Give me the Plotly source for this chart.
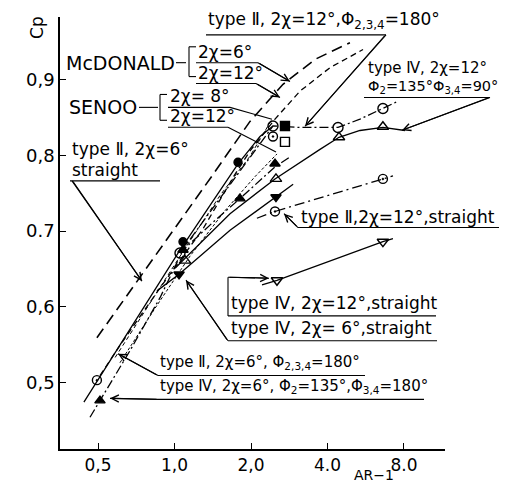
import plotly.graph_objects as go

# ---------------- data (AR-1, Cp) ----------------
mcd6_x = [0.495, 0.718, 1.051, 1.405, 1.982, 2.673, 3.573, 4.90]
mcd6_y = [0.559, 0.635, 0.714, 0.773, 0.845, 0.894, 0.927, 0.949]

mcd12_x = [0.509, 0.610, 0.877, 1.295, 1.715, 1.982, 2.486, 3.118, 4.09, 5.52]
mcd12_y = [0.509, 0.549, 0.625, 0.703, 0.773, 0.806, 0.848, 0.885, 0.916, 0.940]

senoo8_x = [0.584, 0.801, 1.100, 1.510, 1.982, 2.42]
senoo8_y = [0.533, 0.605, 0.677, 0.747, 0.799, 0.848]
senoo12_x = [0.610, 0.838, 1.151, 1.580, 2.074, 2.531]
senoo12_y = [0.526, 0.598, 0.667, 0.727, 0.772, 0.802]

# type II, 2x=6 deg, phi234=180
t2_6_180_x = [0.440, 0.495, 0.610, 0.801, 1.051, 1.380, 1.778, 2.170, 2.441]
t2_6_180_y = [0.474, 0.501, 0.550, 0.612, 0.675, 0.734, 0.789, 0.825, 0.839]
t2_6_180_px = [1.080, 1.778]
t2_6_180_py = [0.686, 0.791]
t2_6_180_hx = [0.495]
t2_6_180_hy = [0.503]

# type IV, 2x=6 deg, phi2=135, phi34=180
t4_6_135_x = [0.465, 0.509, 0.668, 0.877, 1.080, 1.443, 1.810, 2.486, 2.848]
t4_6_135_y = [0.454, 0.476, 0.542, 0.612, 0.675, 0.714, 0.743, 0.785, 0.798]
t4_6_135_px = [0.509, 1.080, 1.810, 2.486]
t4_6_135_py = [0.476, 0.675, 0.743, 0.789]

# type IV, 2x=12 deg, phi2=135, phi34=90 (triangles)
t4_12_90t_x = [1.005, 1.654, 2.486, 3.118, 3.737, 4.44, 5.37, 6.61, 8.07]
t4_12_90t_y = [0.651, 0.723, 0.769, 0.791, 0.808, 0.824, 0.833, 0.837, 0.833]
t4_12_90t_px = [1.100, 2.508, 4.44, 6.61]
t4_12_90t_py = [0.661, 0.769, 0.824, 0.838]

# open-circle series
t4_12_90c_x = [1.051, 2.441, 3.118, 4.40, 5.37, 6.61, 7.51]
t4_12_90c_y = [0.671, 0.839, 0.837, 0.837, 0.848, 0.862, 0.871]
t4_12_90c_px = [1.051, 2.441, 4.40, 6.61]
t4_12_90c_py = [0.671, 0.839, 0.837, 0.862]

# type II, 2x=12 deg, phi234=180 (squares) and extra point
t2_12_180_sx = [2.721]
t2_12_180_sy = [0.839]
senoo_sq_x = [2.721]
senoo_sq_y = [0.818]
half_extra_x = [2.441]
half_extra_y = [0.825]

# type II, 2x=12 deg, straight
t2_12_s_x = [2.11, 2.486, 6.61, 7.24]
t2_12_s_y = [0.717, 0.726, 0.769, 0.773]
t2_12_s_px = [2.486, 6.61]
t2_12_s_py = [0.726, 0.769]

# type IV, 2x=12 deg, straight
t4_12_s_x = [2.21, 2.531, 6.61, 7.24]
t4_12_s_y = [0.629, 0.635, 0.686, 0.690]
t4_12_s_px = [2.531, 6.61]
t4_12_s_py = [0.635, 0.686]

# type IV, 2x=6 deg, straight
t4_6_s_x = [0.853, 1.042, 1.654, 2.508, 2.93]
t4_6_s_y = [0.621, 0.643, 0.701, 0.745, 0.762]
t4_6_s_px = [1.042, 2.508]
t4_6_s_py = [0.643, 0.745]

x_ticks = [0.5, 1.0, 2.0, 4.0, 8.0]
x_ticktext = ["0,5", "1,0", "2,0", "4.0", "8.0"]
y_ticks = [0.5, 0.6, 0.7, 0.8, 0.9]
y_ticktext = ["0,5", "0,6", "0.7", "0,8", "0,9"]

# ---------------- figure ----------------
OFF = 8                       # default page margin of the html body
W, H = 515 - OFF, 484 - OFF
L, R, T, B = 60 - OFF, 445 - OFF, 17 - OFF, 452 - OFF
FONT = "DejaVu Sans"

fig = go.Figure()

def line(x, y, dash="solid", w=1.3):
    fig.add_trace(go.Scatter(x=x, y=y, mode="lines",
                             line=dict(color="black", width=w, dash=dash),
                             showlegend=False, hoverinfo="skip"))

def marks(x, y, sym, size=8, lw=1.4):
    fig.add_trace(go.Scatter(x=x, y=y, mode="markers",
                             marker=dict(symbol=sym, size=size, color="black",
                                         line=dict(color="black", width=lw)),
                             showlegend=False, hoverinfo="skip"))

line(mcd6_x, mcd6_y, "11px,6px", 1.6)
line(mcd12_x, mcd12_y, "6px,4px", 1.3)
line(senoo8_x, senoo8_y, "4px,3px", 1.0)
line(senoo12_x, senoo12_y, "3px,2px", 1.0)
line(t2_6_180_x, t2_6_180_y, "solid", 1.3)
line(t4_6_135_x, t4_6_135_y, "9px,3px,2px,3px", 1.3)
line(t4_12_90t_x, t4_12_90t_y, "solid", 1.3)
line(t4_12_90c_x, t4_12_90c_y, "9px,3px,2px,3px", 1.3)
line(t2_12_s_x, t2_12_s_y, "10px,4px,2px,4px", 1.3)
line(t4_12_s_x, t4_12_s_y, "solid", 1.3)
line(t4_6_s_x, t4_6_s_y, "solid", 1.3)

marks(t2_6_180_px, t2_6_180_py, "circle", 8)
marks(t2_6_180_hx, t2_6_180_hy, "circle-open-dot", 9)
marks(t4_6_135_px, t4_6_135_py, "triangle-up", 9)
marks(t4_12_90t_px, t4_12_90t_py, "triangle-up-open", 10)
marks(t4_12_90c_px, t4_12_90c_py, "circle-open", 10)
marks(t2_12_180_sx, t2_12_180_sy, "square", 9)
marks(senoo_sq_x, senoo_sq_y, "square-open", 9)
marks(half_extra_x, half_extra_y, "circle-open-dot", 9)
marks(t2_12_s_px, t2_12_s_py, "circle-open-dot", 9)
marks(t4_12_s_px, t4_12_s_py, "triangle-down-open", 10)
marks(t4_6_s_px, t4_6_s_py, "triangle-down", 9)

def px2paper(px, py):
    # px, py: screen pixels of the reference picture
    fx, fy = px - OFF, py - OFF
    return (fx - L) / (R - L), 1 - (fy - T) / (B - T)

anns = []
shapes = []

def text(s, px, py, size=16):
    x, y = px2paper(px, py)
    anns.append(dict(text=s, x=x, y=y, xref="paper", yref="paper",
                     xanchor="left", yanchor="middle", showarrow=False,
                     font=dict(family=FONT, size=size, color="black")))

def seg(p0, p1, w=1.1):
    x0, y0 = px2paper(*p0)
    x1, y1 = px2paper(*p1)
    shapes.append(dict(type="line", xref="paper", yref="paper",
                       x0=x0, y0=y0, x1=x1, y1=y1,
                       line=dict(color="black", width=w)))

def arrow(tail, tip):
    seg(tail, tip)
    x, y = px2paper(*tip)
    anns.append(dict(text="", x=x, y=y, xref="paper", yref="paper",
                     ax=tail[0] - tip[0], ay=tail[1] - tip[1],
                     showarrow=True, arrowhead=5, arrowsize=1.3,
                     arrowwidth=1.1, arrowcolor="black"))

# labels
text("type Ⅱ, 2χ=12°,Φ<sub>2,3,4</sub>=180°", 206, 21, 17)
seg((206, 35), (386, 35))
arrow((386, 35), (305, 127))

text("McDONALD", 64, 63, 19)
seg((176, 63), (186, 63))
seg((189, 47), (189, 77)); seg((189, 47), (196, 47)); seg((189, 77), (196, 77))
text("2χ=6°", 196, 52, 17)
seg((196, 63), (258, 63)); arrow((258, 63), (290, 82))
text("2χ=12°", 196, 73, 17)
seg((196, 84), (256, 84)); arrow((256, 84), (280, 98))

text("SENOO", 67, 108, 19)
seg((139, 108), (158, 108))
seg((160, 95), (160, 121)); seg((160, 95), (167, 95)); seg((160, 121), (167, 121))
text("2χ= 8°", 168, 97, 17)
seg((168, 108), (230, 108)); seg((230, 108), (272, 120))
text("2χ=12°", 168, 117, 17)
seg((168, 128), (228, 128)); seg((228, 128), (276, 153))

text("type Ⅱ, 2χ=6°", 70, 150, 17)
text("straight", 70, 171, 17)
seg((70, 182), (160, 182)); arrow((72, 182), (142, 283))

text("type Ⅳ, 2χ=12°", 366, 68, 15)
text("Φ<sub>2</sub>=135°Φ<sub>3,4</sub>=90°", 366, 87, 14.5)
seg((364, 98), (490, 98)); arrow((490, 98), (402, 131))

text("type Ⅱ,2χ=12°,straight", 299, 218, 17)
seg((298, 229), (499, 229)); arrow((298, 229), (284, 215))

text("type Ⅳ, 2χ=12°,straight", 229, 305, 17)
seg((228, 318), (436, 318)); seg((228, 318), (228, 279)); arrow((228, 279), (269, 280))
text("type Ⅳ, 2χ= 6°,straight", 229, 330, 17)
seg((228, 343), (437, 343)); arrow((228, 343), (186, 282))

text("type Ⅱ, 2χ=6°, Φ<sub>2,3,4</sub>=180°", 158, 365, 15)
seg((158, 378), (365, 378)); arrow((158, 378), (118, 356))
text("type Ⅳ, 2χ=6°, Φ<sub>2</sub>=135°,Φ<sub>3,4</sub>=180°", 158, 389, 15)
seg((158, 402), (424, 402)); arrow((158, 402), (110, 401))

# axis labels
text("AR−1", 352, 478, 14)
cx, cy = px2paper(37, 28)
anns.append(dict(text="Cp", x=cx, y=cy, xref="paper", yref="paper",
                 xanchor="center", yanchor="middle",
                 textangle=-90, showarrow=False,
                 font=dict(family=FONT, size=17, color="black")))

fig.update_layout(
    width=W, height=H,
    margin=dict(l=L, r=W - R, t=T, b=H - B, pad=0),
    paper_bgcolor="white", plot_bgcolor="white",
    annotations=anns, shapes=shapes,
    xaxis=dict(type="log", range=[-0.4506, 1.0645], tickvals=x_ticks,
               ticktext=x_ticktext, ticks="inside", ticklen=6, tickwidth=1.2,
               tickcolor="black", showline=True, linecolor="black", linewidth=1.5,
               showgrid=False, zeroline=False,
               tickfont=dict(family=FONT, size=17, color="black")),
    yaxis=dict(range=[0.412, 0.983], tickvals=y_ticks, ticktext=y_ticktext,
               ticks="inside", ticklen=6, tickwidth=1.2, tickcolor="black",
               showline=True, linecolor="black", linewidth=1.5,
               showgrid=False, zeroline=False,
               tickfont=dict(family=FONT, size=18, color="black")),
)

fig.write_html("out.html")
